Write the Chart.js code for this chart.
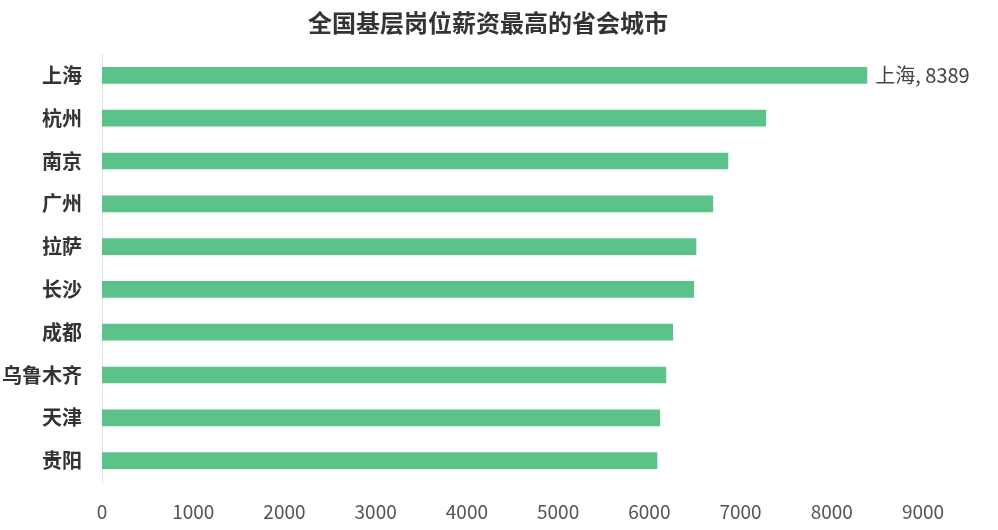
<!DOCTYPE html>
<html>
<head>
<meta charset="utf-8">
<script src="https://cdn.jsdelivr.net/npm/chart.js@4/dist/chart.umd.min.js"></script>
<style>
  html, body { margin: 0; padding: 0; background: #fff; }
  #wrap { width: 998px; height: 530px; position: relative; }
</style>
</head>
<body>
<div id="wrap"><canvas id="c"></canvas></div>
<script>
const chartTitle = "全国基层岗位薪资最高的省会城市";
const cities = ["上海", "杭州", "南京", "广州", "拉萨", "长沙", "成都", "乌鲁木齐", "天津", "贵阳"];
const salaries = [8389, 7280, 6865, 6700, 6515, 6490, 6260, 6185, 6118, 6088];
const xTicks = [0, 1000, 2000, 3000, 4000, 5000, 6000, 7000, 8000, 9000];

const font = '"Noto Sans CJK SC", "Noto Sans", sans-serif';

// title drawn by hand so it sits centred on the page, not the plot
const titlePlugin = {
  id: "pageTitle",
  afterDraw(chart) {
    const ctx = chart.ctx;
    ctx.save();
    ctx.font = "bold 24px " + font;
    ctx.fillStyle = "#333";
    ctx.textAlign = "center";
    ctx.textBaseline = "middle";
    ctx.fillText(chartTitle, 488, 23);
    ctx.restore();
  }
};

// label only the top bar, like the original
const maxLabel = {
  id: "maxLabel",
  afterDatasetsDraw(chart) {
    const meta = chart.getDatasetMeta(0);
    const i = salaries.indexOf(Math.max(...salaries));
    const bar = meta.data[i];
    const ctx = chart.ctx;
    ctx.save();
    ctx.font = "20px " + font;
    ctx.fillStyle = "#444";
    ctx.textAlign = "left";
    ctx.textBaseline = "middle";
    ctx.fillText(cities[i] + ", " + salaries[i], bar.x + 8, bar.y);
    ctx.restore();
  }
};

new Chart(document.getElementById("c"), {
  type: "bar",
  data: {
    labels: cities,
    datasets: [{
      data: salaries,
      backgroundColor: "#5bc28a",
      barPercentage: 0.39,
      categoryPercentage: 1
    }]
  },
  options: {
    indexAxis: "y",
    responsive: true,
    maintainAspectRatio: false,
    animation: false,
    layout: { padding: { left: 0, right: 75, top: 54, bottom: 0 } },
    plugins: {
      legend: { display: false },
      tooltip: { enabled: false },
      title: { display: false }
    },
    scales: {
      x: {
        min: 0,
        max: 9000,
        afterBuildTicks: s => { s.ticks = xTicks.map(v => ({ value: v })); },
        afterFit: s => { s.height = 48; },
        grid: { display: false, drawTicks: false },
        border: { display: false },
        ticks: {
          color: "#555",
          padding: 18,
          maxRotation: 0,
          callback: v => String(v),
          font: { family: font, size: 19 }
        }
      },
      y: {
        afterFit: s => { s.width = 102; },
        grid: { display: false, drawTicks: false },
        border: { display: true, color: "#e3e3e3", width: 1 },
        ticks: {
          color: "#333",
          padding: 20,
          font: { family: font, size: 20, weight: "bold" }
        }
      }
    }
  },
  plugins: [maxLabel, titlePlugin]
});
</script>
</body>
</html>
